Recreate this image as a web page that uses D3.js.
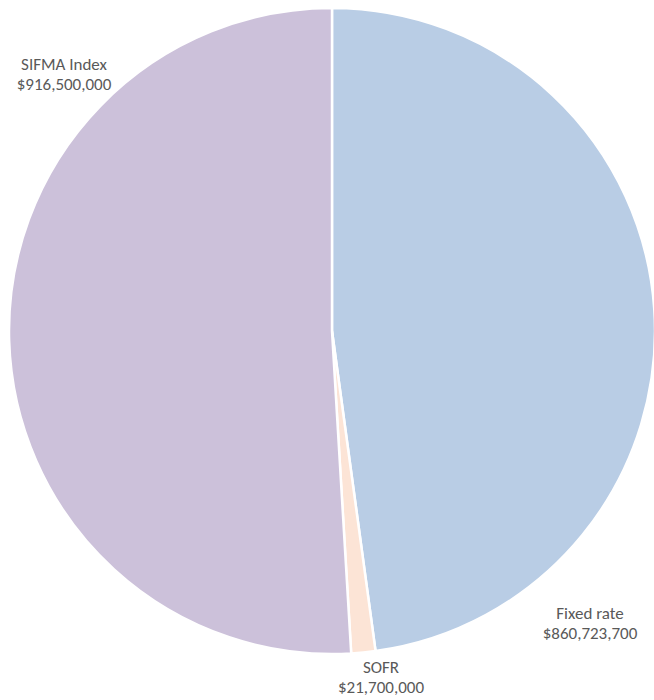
<!DOCTYPE html>
<html>
<head>
<meta charset="utf-8">
<script src="https://cdn.jsdelivr.net/npm/d3@7"></script>
<style>
  html, body { margin: 0; padding: 0; background: #fff; }
  svg { display: block; }
</style>
</head>
<body>
<svg id="chart" width="654" height="700"></svg>
<script>
// Debt outstanding by interest rate type
const categories = ["Fixed rate", "SOFR", "SIFMA Index"];
const amounts = [860723700, 21700000, 916500000];
const colors = ["#B9CDE5", "#FCE4D6", "#CCC1DA"];
const labelPositions = [[590, 619], [381, 673], [64, 70]];

const svg = d3.select("#chart");
const cx = 332, cy = 331, r = 323;

const pie = d3.pie().sort(null).value(d => d.value);
const arc = d3.arc().innerRadius(0).outerRadius(r);
const data = categories.map((c, i) => ({ name: c, value: amounts[i], color: colors[i], pos: labelPositions[i] }));

const g = svg.append("g").attr("transform", `translate(${cx},${cy})`);
g.selectAll("path")
  .data(pie(data))
  .join("path")
  .attr("d", arc)
  .attr("fill", d => d.data.color)
  .attr("stroke", "#fff")
  .attr("stroke-width", 2.5)
  .attr("stroke-linejoin", "round");

const fmt = d3.format("$,.0f");
const labels = svg.append("g")
  .attr("font-family", "Carlito, Lato, 'Open Sans', sans-serif")
  .attr("font-size", 17)
  .attr("fill", "#595959")
  .attr("text-anchor", "middle");

data.forEach(d => {
  const t = labels.append("text").attr("x", d.pos[0]).attr("y", d.pos[1]);
  t.append("tspan").attr("x", d.pos[0]).attr("dy", 0).text(d.name);
  t.append("tspan").attr("x", d.pos[0]).attr("dy", 20).text(fmt(d.value));
});
</script>
</body>
</html>
